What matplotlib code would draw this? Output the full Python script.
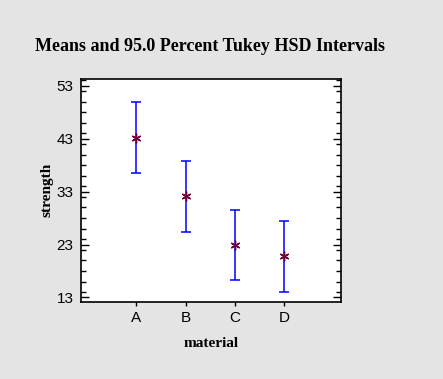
import matplotlib
matplotlib.use("Agg")
from matplotlib import pyplot as plt
from matplotlib.ticker import MultipleLocator

materials = ["A", "B", "C", "D"]
means = [43.2, 32.1, 22.9, 20.8]
lower = [36.5, 25.4, 16.3, 14.1]
upper = [49.9, 38.8, 29.5, 27.4]
y_ticks = [13, 23, 33, 43, 53]

bg = "#e4e4e4"
serif = ["Liberation Serif", "DejaVu Serif"]
sans = ["Liberation Sans", "DejaVu Sans"]

fig = plt.figure(figsize=(4.43, 3.79), dpi=100, facecolor=bg)
ax = fig.add_axes([0.182, 0.204, 0.587, 0.588])
ax.set_facecolor("white")

xs = list(range(1, len(materials) + 1))
err_lo = [m - l for m, l in zip(means, lower)]
err_hi = [u - m for m, u in zip(means, upper)]
ax.errorbar(xs, means, yerr=[err_lo, err_hi], fmt="none", ecolor="#0000ff",
            elinewidth=1.1, capsize=3.6, capthick=1.1)
ax.plot(xs, means, linestyle="none", marker=(6, 2, 0), markersize=7,
        markeredgecolor="#700040", markeredgewidth=1.0, color="#700040")

ax.set_xlim(-0.13, 5.15)
ax.set_ylim(12.2, 54.3)
ax.set_xticks(xs)
ax.set_xticklabels(materials, family=sans, fontsize=11)
ax.set_yticks(y_ticks)
ax.set_yticklabels([str(t) for t in y_ticks], family=sans, fontsize=11)
ax.yaxis.set_minor_locator(MultipleLocator(2))

ax.tick_params(axis="y", which="both", direction="in", left=True, right=True,
               pad=5)
ax.tick_params(axis="y", which="major", length=6, width=1)
ax.tick_params(axis="y", which="minor", length=3.5, width=1)
ax.tick_params(axis="x", which="major", direction="out", length=3, width=1,
               pad=4)
for s in ax.spines.values():
    s.set_linewidth(1.2)
    s.set_color("black")

fig.text(0.474, 0.876, "Means and 95.0 Percent Tukey HSD Intervals",
         ha="center", va="center", family=serif, fontweight="bold",
         fontsize=13)
ax.set_xlabel("material", family=serif, fontweight="bold", fontsize=11,
              labelpad=8)
ax.set_ylabel("strength", family=serif, fontweight="bold", fontsize=11,
              labelpad=2)

fig.savefig("out.png", dpi=100, facecolor=bg)
